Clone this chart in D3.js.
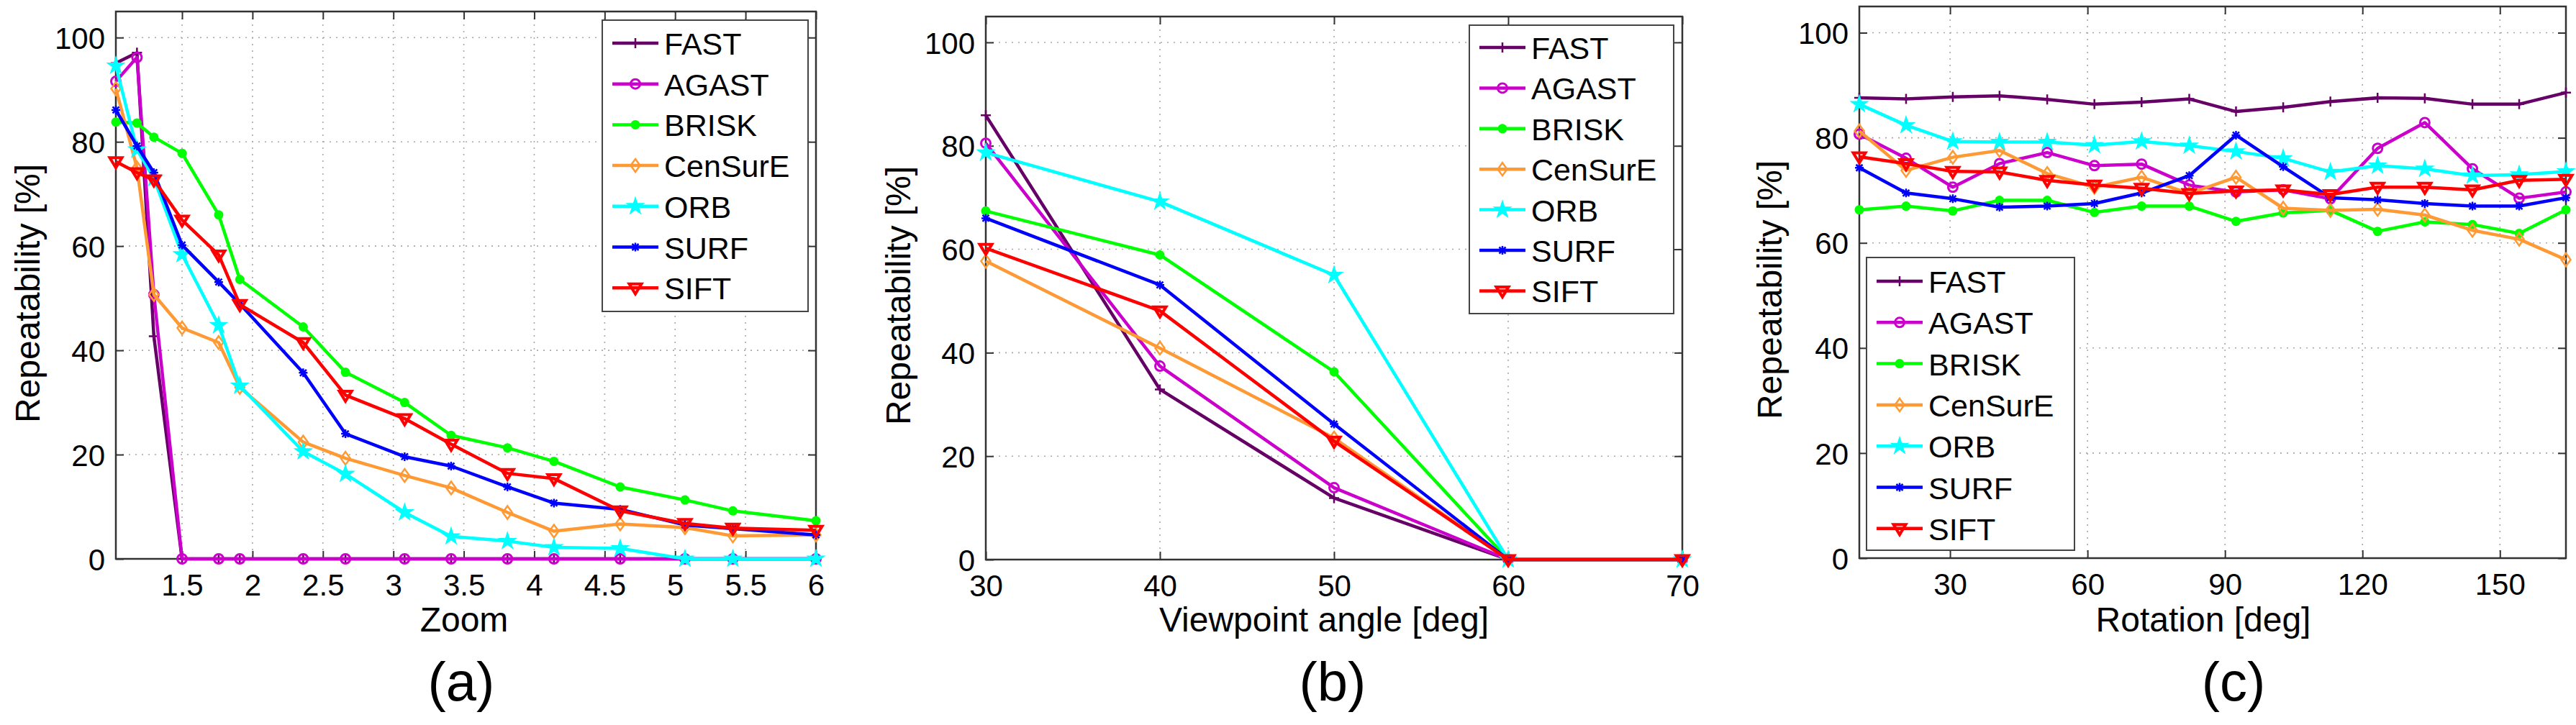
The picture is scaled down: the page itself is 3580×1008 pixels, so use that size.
<!DOCTYPE html>
<html>
<head>
<meta charset="utf-8">
<script src="https://cdn.jsdelivr.net/npm/d3@7"></script>
<style>
  body { margin: 0; background: #fff; }
</style>
</head>
<body>
<svg id="chart"></svg>
<script>
// detectors, in legend order
const detectors = ["FAST", "AGAST", "BRISK", "CenSurE", "ORB", "SURF", "SIFT"];

// (a) zoom
const zoomLevels = [1.03, 1.18, 1.3, 1.5, 1.76, 1.91, 2.36, 2.66, 3.08, 3.41, 3.81, 4.14, 4.61, 5.07, 5.41, 6.0];
const zoomRepeatability = [
    [95.1, 97.1, 42.7, 0, 0, 0, 0, 0, 0, 0, 0, 0, 0, 0, 0, 0],
    [91.6, 96.2, 50.7, 0, 0, 0, 0, 0, 0, 0, 0, 0, 0, 0, 0, 0],
    [83.8, 83.6, 80.9, 77.8, 66.0, 53.6, 44.5, 35.8, 30.0, 23.7, 21.3, 18.7, 13.8, 11.3, 9.2, 7.3],
    [90.2, 75.0, 50.7, 44.3, 41.5, 32.9, 22.4, 19.3, 16.0, 13.6, 8.9, 5.3, 6.7, 6.0, 4.4, 4.6],
    [94.6, 78.5, 73.0, 58.4, 44.8, 33.2, 20.6, 16.3, 8.9, 4.3, 3.4, 2.2, 2.0, 0, 0, 0],
    [86.1, 79.2, 74.1, 60.2, 53.1, 48.9, 35.7, 24.0, 19.6, 17.8, 13.8, 10.7, 9.5, 6.5, 5.8, 4.6],
    [76.2, 74.1, 72.7, 65.0, 58.3, 48.8, 41.5, 31.4, 26.9, 22.0, 16.4, 15.4, 9.2, 6.8, 5.9, 5.5]
];
const zoomTicks = [1.5, 2, 2.5, 3, 3.5, 4, 4.5, 5, 5.5, 6];

// (b) viewpoint angle
const viewpointAngles = [30, 40, 50, 60, 70];
const viewpointRepeatability = [
    [85.9, 32.9, 11.9, 0, 0],
    [80.5, 37.4, 13.9, 0, 0],
    [67.4, 58.9, 36.3, 0, 0],
    [57.7, 40.9, 23.5, 0, 0],
    [78.7, 69.2, 55.0, 0, 0],
    [66.0, 53.1, 26.2, 0, 0],
    [60.2, 48.1, 22.9, 0, 0]
];
const viewpointTicks = [30, 40, 50, 60, 70];

// (c) rotation
const rotationAngles = [10.2, 20.4, 30.6, 40.8, 51.2, 61.5, 71.8, 82.2, 92.4, 102.7, 113.0, 123.3, 133.6, 144.0, 154.2, 164.4];
const rotationRepeatability = [
    [87.6, 87.4, 87.8, 88.0, 87.3, 86.4, 86.8, 87.4, 85.0, 85.8, 86.9, 87.6, 87.5, 86.4, 86.4, 88.6],
    [80.7, 76.1, 70.6, 75.1, 77.2, 74.7, 75.0, 71.0, 69.7, 70.1, 68.4, 78.0, 82.9, 74.1, 68.5, 69.7],
    [66.3, 67.0, 66.1, 68.1, 68.1, 65.8, 67.0, 67.0, 64.1, 65.7, 66.2, 62.2, 64.0, 63.5, 61.8, 66.3],
    [81.3, 73.8, 76.3, 77.6, 73.2, 70.6, 72.5, 69.4, 72.5, 66.6, 66.2, 66.4, 65.3, 62.4, 60.7, 56.8],
    [86.4, 82.4, 79.3, 79.2, 79.2, 78.6, 79.3, 78.5, 77.4, 76.1, 73.5, 74.7, 74.1, 72.8, 73.0, 73.6],
    [74.3, 69.5, 68.4, 66.8, 67.0, 67.5, 69.5, 72.8, 80.5, 74.5, 68.6, 68.2, 67.5, 67.0, 67.0, 68.6],
    [76.4, 75.1, 73.6, 73.5, 71.9, 71.0, 70.4, 69.4, 69.9, 70.1, 69.2, 70.6, 70.6, 70.1, 71.9, 72.1]
];
const rotationTicks = [30, 60, 90, 120, 150];

const yTicks = [0, 20, 40, 60, 80, 100];

// styles
const seriesColors = ["#660066", "#cc00cc", "#00ff00", "#ff9933", "#00ffff", "#0000ff", "#ff0000"];
const seriesMarkers = ["plus", "circle", "dot", "diamond", "star", "asterisk", "triangle"];
// no serif face in the sandbox, Liberation Sans keeps the text narrow
const fontStack = '"Liberation Sans", Arial, Helvetica, sans-serif';

const W = 3580, H = 1008;

const svg = d3.select('#chart')
    .attr('width', W)
    .attr('height', H)
    .attr('viewBox', `0 0 ${W} ${H}`)
    .attr('font-family', fontStack);

svg.append('rect').attr('width', W).attr('height', H).attr('fill', '#fff');

const panels = [
    {
        xs: zoomLevels, values: zoomRepeatability, xDomain: [1.03, 6], xTicks: zoomTicks,
        left: 161, right: 1134, top: 16, bottom: 777,
        xLabel: "Zoom", xLabelX: 645, caption: "(a)", captionX: 641,
        yLabelX: 55, yLabelY: 408,
        legend: { x: 837, y: 28, w: 286, h: 405, row0: 32, rowH: 56.7 }
    },
    {
        xs: viewpointAngles, values: viewpointRepeatability, xDomain: [30, 70], xTicks: viewpointTicks,
        left: 1370, right: 2338, top: 23, bottom: 778,
        xLabel: "Viewpoint angle [deg]", xLabelX: 1840, caption: "(b)", captionX: 1852,
        yLabelX: 1265, yLabelY: 411,
        legend: { x: 2042, y: 35, w: 284, h: 401, row0: 31, rowH: 56.4 }
    },
    {
        xs: rotationAngles, values: rotationRepeatability, xDomain: [10.2, 164.4], xTicks: rotationTicks,
        left: 2584, right: 3566, top: 9, bottom: 776,
        xLabel: "Rotation [deg]", xLabelX: 3062, caption: "(c)", captionX: 3104,
        yLabelX: 2476, yLabelY: 403,
        legend: { x: 2594, y: 358, w: 289, h: 407, row0: 33, rowH: 57.3 }
    }
];

function drawMarker(g, type, color) {
    switch (type) {
        case "plus":
            g.append('path').attr('d', 'M-7,0H7M0,-7V7')
                .attr('stroke', color).attr('stroke-width', 2.5).attr('fill', 'none');
            break;
        case "circle":
            g.append('circle').attr('r', 6.5)
                .attr('stroke', color).attr('stroke-width', 3).attr('fill', 'none');
            break;
        case "dot":
            g.append('circle').attr('r', 6.5).attr('fill', color);
            break;
        case "diamond":
            g.append('path').attr('d', 'M0,-9L6.5,0L0,9L-6.5,0Z')
                .attr('stroke', color).attr('stroke-width', 2.5).attr('fill', 'none');
            break;
        case "star":
            g.append('path').attr('d', d3.symbol().type(d3.symbolStar).size(160)())
                .attr('fill', color).attr('stroke', color).attr('stroke-width', 1.5);
            break;
        case "asterisk":
            g.append('path').attr('d', 'M-6,0H6M0,-6V6M-4.5,-4.5L4.5,4.5M-4.5,4.5L4.5,-4.5')
                .attr('stroke', color).attr('stroke-width', 2.5).attr('fill', 'none');
            break;
        case "triangle":
            g.append('path').attr('d', 'M-8.5,-5.5L8.5,-5.5L0,8.5Z')
                .attr('stroke', color).attr('stroke-width', 4).attr('fill', 'none')
                .attr('stroke-linejoin', 'miter');
            break;
    }
}

panels.forEach(p => {
    let x = d3.scaleLinear().domain(p.xDomain).range([p.left, p.right]);
    let y = d3.scaleLinear().domain([0, 105]).range([p.bottom, p.top]);
    let w = p.right - p.left, h = p.bottom - p.top;

    let g = svg.append('g');

    // dotted grid
    let grid = g.append('g');
    grid.selectAll('line.vx')
        .data(p.xTicks.filter(t => x(t) < p.right - 1))
        .join('line')
        .attr('class', 'vx')
        .attr('x1', d => x(d)).attr('x2', d => x(d))
        .attr('y1', p.top).attr('y2', p.bottom);
    grid.selectAll('line.hy')
        .data(yTicks.filter(t => t > 0 && t < 105))
        .join('line')
        .attr('class', 'hy')
        .attr('x1', p.left).attr('x2', p.right)
        .attr('y1', d => y(d)).attr('y2', d => y(d));
    grid.selectAll('line')
        .attr('stroke', '#a8a8a8')
        .attr('stroke-width', 1.6)
        .attr('stroke-dasharray', '2,7');

    // axes with inward ticks
    let axB = g.append('g').attr('transform', `translate(0,${p.bottom})`)
        .call(d3.axisBottom(x).tickValues(p.xTicks).tickSizeInner(-11).tickSizeOuter(0).tickFormat(d3.format('')));
    let axT = g.append('g').attr('transform', `translate(0,${p.top})`)
        .call(d3.axisTop(x).tickValues(p.xTicks).tickSizeInner(-11).tickSizeOuter(0).tickFormat(''));
    let axL = g.append('g').attr('transform', `translate(${p.left},0)`)
        .call(d3.axisLeft(y).tickValues(yTicks).tickSizeInner(-11).tickSizeOuter(0));
    let axR = g.append('g').attr('transform', `translate(${p.right},0)`)
        .call(d3.axisRight(y).tickValues(yTicks).tickSizeInner(-11).tickSizeOuter(0).tickFormat(''));

    [axB, axT, axL, axR].forEach(a => {
        a.attr('font-family', fontStack);
        a.select('.domain').remove();
        a.selectAll('line').attr('stroke', '#333').attr('stroke-width', 2);
    });
    axB.selectAll('text')
        .attr('y', 51).attr('dy', null)
        .attr('fill', '#000')
        .attr('font-size', 42);
    axL.selectAll('text')
        .attr('x', -15).attr('dy', '0.36em')
        .attr('fill', '#000')
        .attr('font-size', 42);

    // box
    g.append('rect')
        .attr('x', p.left).attr('y', p.top)
        .attr('width', w).attr('height', h)
        .attr('fill', 'none')
        .attr('stroke', '#333')
        .attr('stroke-width', 2.5);

    // series
    let line = d3.line().x((d, i) => x(p.xs[i])).y(d => y(d));
    detectors.forEach((name, k) => {
        let s = g.append('g');
        s.append('path')
            .datum(p.values[k])
            .attr('d', line)
            .attr('fill', 'none')
            .attr('stroke', seriesColors[k])
            .attr('stroke-width', 4.5)
            .attr('stroke-linejoin', 'round');
        s.selectAll('g.m')
            .data(p.values[k])
            .join('g')
            .attr('transform', (d, i) => `translate(${x(p.xs[i])},${y(d)})`)
            .each(function () { drawMarker(d3.select(this), seriesMarkers[k], seriesColors[k]); });
    });

    // legend
    let L = p.legend;
    let lg = g.append('g');
    lg.append('rect')
        .attr('x', L.x).attr('y', L.y)
        .attr('width', L.w).attr('height', L.h)
        .attr('fill', '#fff')
        .attr('stroke', '#444')
        .attr('stroke-width', 2);
    detectors.forEach((name, k) => {
        let ry = L.y + L.row0 + k * L.rowH;
        lg.append('line')
            .attr('x1', L.x + 14).attr('x2', L.x + 78)
            .attr('y1', ry).attr('y2', ry)
            .attr('stroke', seriesColors[k])
            .attr('stroke-width', 4.5);
        let mg = lg.append('g').attr('transform', `translate(${L.x + 46},${ry})`);
        drawMarker(mg, seriesMarkers[k], seriesColors[k]);
        lg.append('text')
            .attr('x', L.x + 86).attr('y', ry + 16)
            .attr('font-size', 43)
            .text(name);
    });

    // axis labels
    g.append('text')
        .attr('x', p.xLabelX).attr('y', 878)
        .attr('text-anchor', 'middle')
        .attr('font-size', 48)
        .text(p.xLabel);
    g.append('text')
        .attr('transform', `translate(${p.yLabelX},${p.yLabelY}) rotate(-90)`)
        .attr('text-anchor', 'middle')
        .attr('font-size', 48)
        .text('Repeatability [%]');
    g.append('text')
        .attr('x', p.captionX).attr('y', 974)
        .attr('text-anchor', 'middle')
        .attr('font-size', 76)
        .text(p.caption);
});
</script>
</body>
</html>
